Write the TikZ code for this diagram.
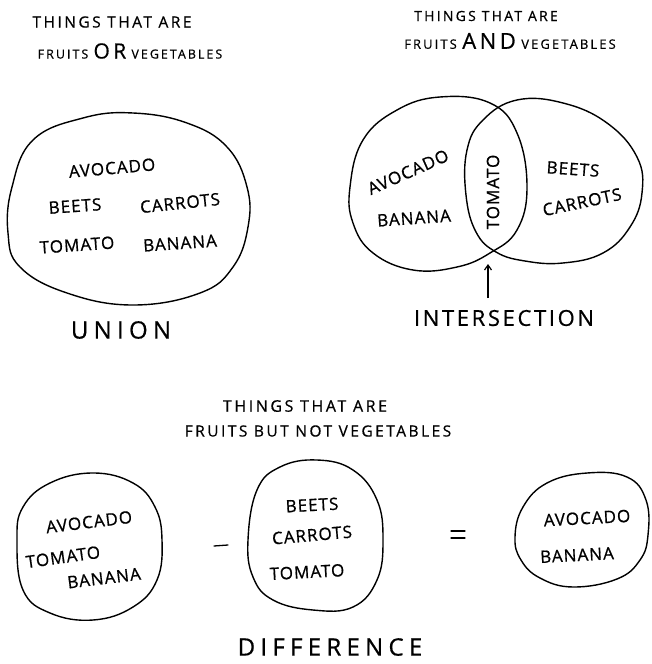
\documentclass[tikz,border=0pt]{standalone}
\usepackage{fontspec}
\usetikzlibrary{arrows.meta}
\newfontfamily\handS[LetterSpace=6,FakeBold=0.8]{Open Sans}
\newfontfamily\handW[LetterSpace=16,FakeBold=0.6]{Open Sans}
\newfontfamily\handX[LetterSpace=22,FakeBold=0.6]{Open Sans}
\newfontfamily\handY[LetterSpace=12,FakeBold=0.6]{Open Sans}
\begin{document}
\begin{tikzpicture}[x=1pt,y=-1pt,
  item/.style={font=\handS\fontsize{17}{17}\selectfont, inner sep=0pt},
  ttl/.style={font=\handW\fontsize{12.5}{12.5}\selectfont, inner sep=0pt},
  ttlb/.style={font=\handW\fontsize{15.5}{15.5}\selectfont, inner sep=0pt},
  big/.style={font=\handX\fontsize{24}{24}\selectfont, inner sep=0pt},
  bigi/.style={font=\handY\fontsize{22}{22}\selectfont, inner sep=0pt},
  blob/.style={draw, line width=1.4pt, line join=round},
  conn/.style={line width=1.2pt, -{Straight Barb[length=5pt,width=7pt]}},
  sign/.style={line width=1.3pt, line cap=round}]
\useasboundingbox[fill=white] (0,0) rectangle (651,664);

% ---------- UNION ----------
\node[ttlb] (u1) at (112,22) {THINGS THAT ARE};
\node[ttl] (u2) at (130,51) {FRUITS {\fontsize{21}{21}\selectfont OR} VEGETABLES};
\draw[blob] plot[smooth cycle, tension=0.7] coordinates {
  (33,140) (83,118) (133,113) (187,123) (227,147) (247,187) (248,227)
  (233,267) (200,293) (133,305) (67,293) (20,267) (8,233) (12,187)};
\node[item, rotate=5] (ua) at (112,168) {AVOCADO};
\node[item, rotate=4] (ub) at (75,206) {BEETS};
\node[item, rotate=6] (uc) at (180,203) {CARROTS};
\node[item, rotate=4] (ut) at (77,245) {TOMATO};
\node[item, rotate=4] (un) at (180,243) {BANANA};
\node[big] (union) at (121,330) {UNION};

% ---------- INTERSECTION ----------
\node[ttl, font=\handW\fontsize{14}{14}\selectfont] (i1) at (486,16) {THINGS THAT ARE};
\node[ttl, font=\handW\fontsize{13}{13}\selectfont] (i2) at (510,41) {FRUITS {\fontsize{22}{22}\selectfont AND} VEGETABLES};
\draw[blob] plot[smooth cycle, tension=0.7] coordinates {
  (350,187) (363,140) (397,110) (440,97) (490,103) (517,133) (527,187)
  (517,230) (490,253) (457,267) (413,270) (373,253) (353,223)};
\draw[blob] plot[smooth cycle, tension=0.7] coordinates {
  (467,150) (483,120) (517,100) (563,103) (607,123) (637,157) (642,193)
  (630,227) (603,253) (563,263) (525,261) (496,252) (476,232) (466,195)};
\node[item, rotate=24] (ia) at (408,172) {AVOCADO};
\node[item, rotate=4] (in) at (414,218) {BANANA};
\node[item, rotate=90] (it) at (493,192) {TOMATO};
\node[item, rotate=-4] (ib) at (573,169) {BEETS};
\node[item, rotate=12] (ic) at (582,202) {CARROTS};
\node[bigi] (isect) at (504,318) {INTERSECTION};
\coordinate (atip) at (488,264);
\coordinate (atail) at (488,298);
\draw[conn] (atail) -- (atip);

% ---------- DIFFERENCE ----------
\node[ttl, font=\handW\fontsize{16}{16}\selectfont] (d1) at (305,406) {THINGS THAT ARE};
\node[ttl, font=\handW\fontsize{15.5}{15.5}\selectfont] (d2) at (318,431) {FRUITS BUT NOT VEGETABLES};
\draw[blob] plot[smooth cycle, tension=0.7] coordinates {
  (17,540) (23,507) (50,483) (93,473) (133,483) (155,507) (162,540)
  (157,580) (133,607) (93,620) (50,613) (23,590)};
\node[item, rotate=7] (la) at (89,522) {AVOCADO};
\node[item, rotate=8] (lt) at (63,557) {TOMATO};
\node[item, rotate=7] (ln) at (104,578) {BANANA};
\coordinate (m1) at (214,546);
\coordinate (m2) at (228,545);
\draw[sign] (m1) -- (m2);
\draw[blob] plot[smooth cycle, tension=0.7] coordinates {
  (248,540) (257,490) (280,467) (317,460) (353,470) (377,500) (383,540)
  (377,580) (353,607) (313,610) (273,600) (253,577)};
\node[item, rotate=3] (mb) at (312,505) {BEETS};
\node[item, rotate=5] (mc) at (312,535) {CARROTS};
\node[item, rotate=3] (mt) at (307,572) {TOMATO};
\coordinate (e1) at (451,531);
\coordinate (e2) at (465,531);
\coordinate (e3) at (451,538);
\coordinate (e4) at (465,538);
\draw[sign] (e1) -- (e2);
\draw[sign] (e3) -- (e4);
\draw[blob] plot[smooth cycle, tension=0.7] coordinates {
  (515,537) (523,507) (547,483) (587,473) (627,477) (646,500) (648,535)
  (640,560) (617,579) (573,587) (540,578) (521,560)};
\node[item, rotate=3] (ra) at (587,518) {AVOCADO};
\node[item, rotate=3] (rn) at (577,555) {BANANA};
\node[big] (diff) at (330,647) {DIFFERENCE};
\end{tikzpicture}
\end{document}
